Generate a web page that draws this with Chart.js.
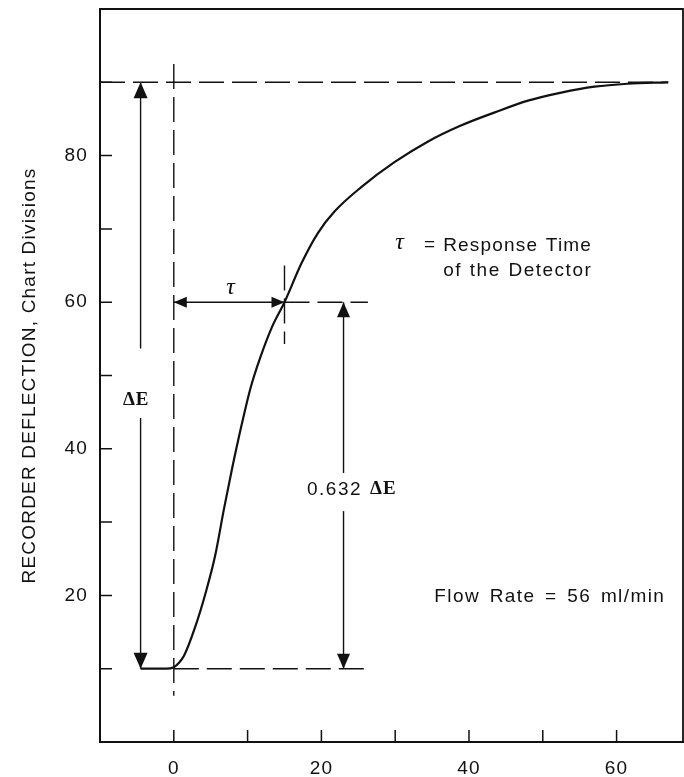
<!DOCTYPE html>
<html><head><meta charset="utf-8">
<script src="https://cdn.jsdelivr.net/npm/chart.js@4"></script>
<style>html,body{margin:0;padding:0;background:#fff}#wrap{width:684px;height:777px}</style>
</head><body><div id="wrap"><canvas id="c" width="684" height="777"></canvas></div>
<script>
// ---- data ----
const timeValues       = [-4.5, -1, 0, 0.7, 1.4, 2.9, 4.3, 5.6, 6.8, 7.9, 9.2, 10.4, 11.7, 13.3, 15, 17.3, 19.5, 21.8, 25.4, 29.9, 34.4, 38.9, 43.5, 48, 52.5, 57, 61.5, 67];
const deflectionValues = [10, 10, 10.2, 10.8, 11.8, 15.7, 20.3, 25.4, 31.8, 37.3, 43.3, 48.3, 52.4, 56.6, 60, 65.3, 69.4, 72.4, 75.7, 79.1, 81.9, 84.1, 85.9, 87.5, 88.6, 89.4, 89.8, 90];
const xTickValues = [0, 10, 20, 30, 40, 50, 60];
const xTickLabels = ['0', null, '20', null, '40', null, '60'];
const yTickValues = [10, 20, 30, 40, 50, 60, 70, 80, 90];
const yTickLabels = [null, '20', null, '40', null, '60', null, '80', null];
const xRange = [-10, 69];
const yRange = [0, 100];
// dashed guide segments [x1, y1, x2, y2]
const guideSegments = [[-10, 90, 67, 90], [0, 92.5, 0, 6.3], [0, 10, 26, 10], [15, 60, 26.3, 60], [15, 65, 15, 54.3]];
// arrows [x1, y1, x2, y2, headAtStart, headAtEnd]
const arrowSegments = [[-4.5, 53.7, -4.5, 90, 0, 1], [-4.5, 44.2, -4.5, 10, 0, 1], [0, 60, 15, 60, 1, 1], [23, 36.7, 23, 60, 0, 1], [23, 31.5, 23, 10, 0, 1]];
const arrowHeads = [[16, 7], [16, 7], [13, 5.5], [15, 6.5], [15, 6.5]];

const INK = '#111';
const sans = '"Liberation Sans", Arial, sans-serif';
const serif = '"Liberation Serif", "DejaVu Serif", serif';

const annotations = [
  {text: 'τ', x: 7.7, y: 62.0, font: 'italic 24px ' + serif, align: 'center', ls: 0, ws: 0},
  {text: 'τ', x: 30.0, y: 68.1, font: 'italic 24px ' + serif, align: 'left', ls: 0, ws: 0},
  {text: '=', x: 33.9, y: 67.9, font: '19px ' + sans, align: 'left', ls: 0, ws: 0},
  {text: 'Response Time', x: 36.5, y: 67.7, font: '19px ' + sans, align: 'left', ls: 1.2, ws: 1},
  {text: 'of the Detector', x: 36.5, y: 64.3, font: '19px ' + sans, align: 'left', ls: 1.5, ws: 1},
  {text: 'Flow Rate = 56 ml/min', x: 35.3, y: 19.8, font: '19px ' + sans, align: 'left', ls: 1.4, ws: 3},
  {text: '0.632', x: 18.05, y: 34.4, font: '19px ' + sans, align: 'left', ls: 1.5, ws: 0},
  {text: 'ΔE', x: 26.6, y: 34.5, font: 'bold 19px ' + serif, align: 'left', ls: 1, ws: 0},
  {text: 'ΔE', x: -6.9, y: 46.6, font: 'bold 19px ' + serif, align: 'left', ls: 1, ws: 0}
];

const curveData = timeValues.map((t, i) => ({x: t, y: deflectionValues[i]}));
const guideDatasets = guideSegments.map(s => ({
  data: [{x: s[0], y: s[1]}, {x: s[2], y: s[3]}],
  showLine: true, borderColor: INK, borderWidth: 1.4, borderDash: [25, 8],
  pointRadius: 0, fill: false, order: 2
}));

const spacingPlugin = {
  id: 'spacing',
  beforeDraw(chart) { chart.ctx.letterSpacing = '1.2px'; },
  afterDraw(chart) { chart.ctx.letterSpacing = '0px'; }
};

const framePlugin = {
  id: 'frame',
  afterDraw(chart) {
    const {ctx, chartArea: a, scales} = chart;
    ctx.save();
    ctx.strokeStyle = INK;
    ctx.lineWidth = 1.8;
    ctx.beginPath();
    ctx.moveTo(a.left, a.top); ctx.lineTo(a.right, a.top); ctx.lineTo(a.right, a.bottom);
    ctx.stroke();
    // inward tick marks
    ctx.lineWidth = 1.5;
    ctx.beginPath();
    xTickValues.forEach(v => { const px = scales.x.getPixelForValue(v); ctx.moveTo(px, a.bottom); ctx.lineTo(px, a.bottom - 12); });
    yTickValues.forEach(v => { const py = scales.y.getPixelForValue(v); ctx.moveTo(a.left, py); ctx.lineTo(a.left + 12, py); });
    ctx.stroke();
    // arrows
    arrowSegments.forEach((s, i) => {
      const x1 = scales.x.getPixelForValue(s[0]), y1 = scales.y.getPixelForValue(s[1]);
      const x2 = scales.x.getPixelForValue(s[2]), y2 = scales.y.getPixelForValue(s[3]);
      const [len, hw] = arrowHeads[i];
      ctx.lineWidth = 1.4;
      ctx.beginPath(); ctx.moveTo(x1, y1); ctx.lineTo(x2, y2); ctx.stroke();
      const head = (tx, ty, fx, fy) => {
        const ang = Math.atan2(ty - fy, tx - fx);
        const bx = tx - Math.cos(ang) * len, by = ty - Math.sin(ang) * len;
        const nx = -Math.sin(ang) * hw, ny = Math.cos(ang) * hw;
        ctx.beginPath(); ctx.moveTo(tx, ty); ctx.lineTo(bx + nx, by + ny); ctx.lineTo(bx - nx, by - ny); ctx.closePath();
        ctx.fillStyle = INK; ctx.fill();
      };
      if (s[5]) head(x2, y2, x1, y1);
      if (s[4]) head(x1, y1, x2, y2);
    });
    // text annotations
    ctx.fillStyle = INK;
    ctx.textBaseline = 'middle';
    annotations.forEach(t => {
      ctx.font = t.font; ctx.textAlign = t.align;
      ctx.letterSpacing = t.ls + 'px';
      ctx.wordSpacing = t.ws + 'px';
      ctx.fillText(t.text, scales.x.getPixelForValue(t.x), scales.y.getPixelForValue(t.y));
    });
    ctx.restore();
  }
};

new Chart(document.getElementById('c'), {
  type: 'scatter',
  data: {
    datasets: [{
      data: curveData, showLine: true, borderColor: INK, borderWidth: 2.2,
      pointRadius: 0, cubicInterpolationMode: 'monotone', fill: false, order: 1
    }].concat(guideDatasets)
  },
  options: {
    responsive: false, animation: false, devicePixelRatio: 1,
    layout: {padding: {top: 9, right: 1, left: 0, bottom: 0}},
    plugins: {legend: {display: false}, tooltip: {enabled: false}},
    scales: {
      x: {
        type: 'linear', min: xRange[0], max: xRange[1],
        afterBuildTicks: s => { s.ticks = xTickValues.map(v => ({value: v})); },
        afterFit: s => { s.height = 35; s.paddingLeft = 0; s.paddingRight = 0; },
        grid: {display: false, drawTicks: false},
        border: {display: true, width: 2, color: INK},
        ticks: {
          callback: v => { const i = xTickValues.indexOf(v); return i < 0 ? null : xTickLabels[i]; },
          padding: 15, autoSkip: false, maxRotation: 0, color: INK, font: {family: sans, size: 19}
        }
      },
      y: {
        type: 'linear', min: yRange[0], max: yRange[1],
        afterBuildTicks: s => { s.ticks = yTickValues.map(v => ({value: v})); },
        afterFit: s => { s.width = 100; s.paddingTop = 0; s.paddingBottom = 0; },
        grid: {display: false, drawTicks: false},
        border: {display: true, width: 2, color: INK},
        ticks: {
          callback: v => { const i = yTickValues.indexOf(v); return i < 0 ? null : yTickLabels[i]; },
          padding: 12, autoSkip: false, color: INK, font: {family: sans, size: 19}
        },
        title: {
          display: true, text: 'RECORDER DEFLECTION, Chart Divisions', color: INK,
          font: {family: sans, size: 19}, padding: {top: 18, bottom: 0}
        }
      }
    }
  },
  plugins: [spacingPlugin, framePlugin]
});
</script></body></html>
